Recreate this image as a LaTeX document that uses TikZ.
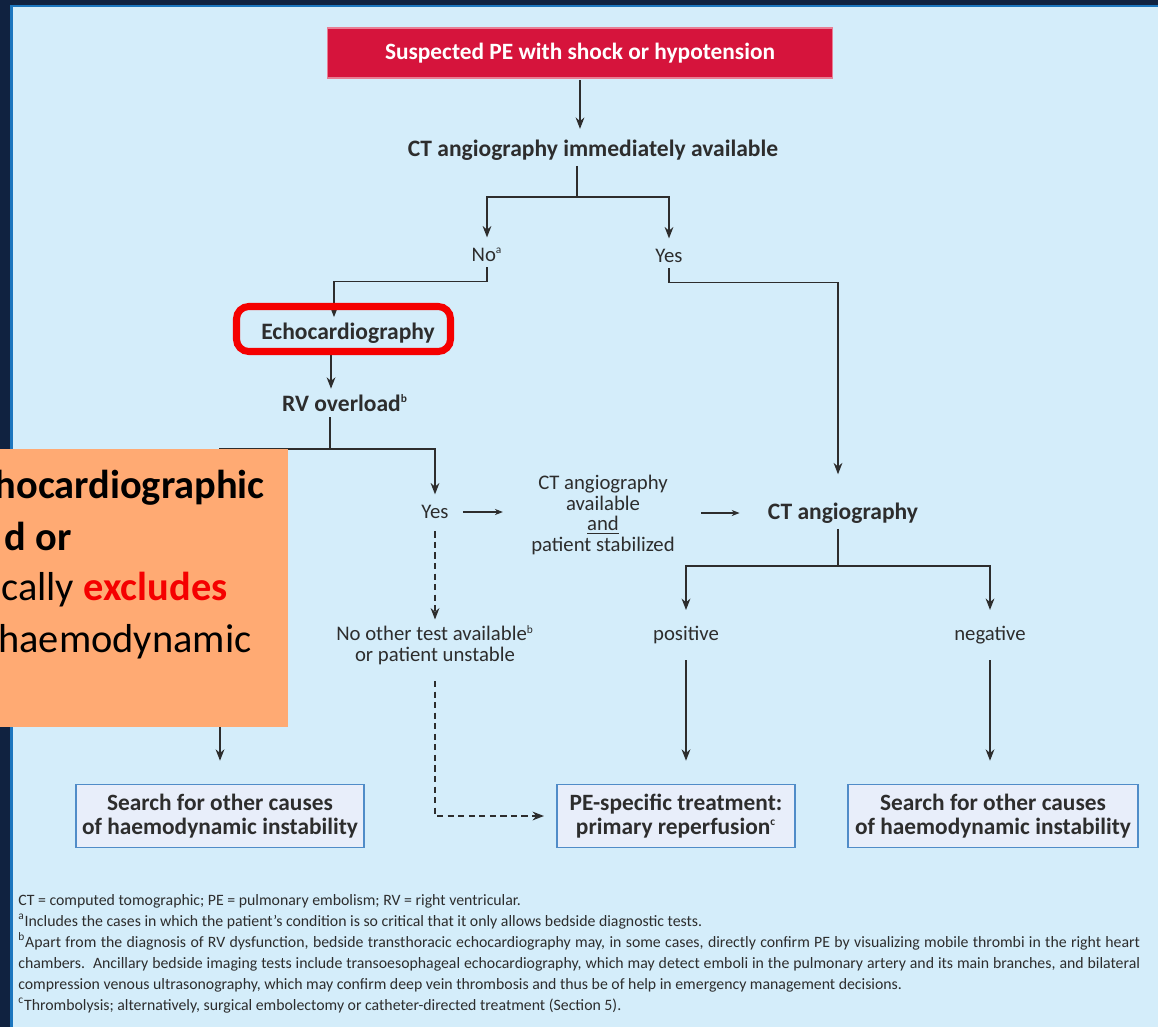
\documentclass[tikz,border=0pt]{standalone}
\usepackage{fontspec}
\setmainfont{Carlito}
\usetikzlibrary{arrows.meta}
\newcommand{\fnmark}[1]{\textsuperscript{\fontsize{6.5}{6.5}\selectfont #1}}

\begin{document}
\begin{tikzpicture}[x=0.02cm, y=-0.02cm,
    flow/.style={draw=inkgray, line width=0.8pt, -{Stealth[length=6.5pt, width=5pt]}},
    smallflow/.style={draw=inkgray, line width=0.6pt, -{Stealth[length=4.5pt, width=3.5pt]}},
    link/.style={draw=inkgray, line width=0.8pt},
    dashlink/.style={flow, dash pattern=on 3.5pt off 2.5pt},
    txt/.style={text=inkgray, inner sep=3pt, align=center, font=\fontsize{11.8}{11.9}\selectfont},
    boldtxt/.style={txt, font=\fontsize{13.4}{14}\selectfont\bfseries},
    endbox/.style={draw=boxedge, fill=boxfill, line width=0.9pt, text=inkgray, align=center,
        minimum height=1.26cm, font=\fontsize{13.3}{13.8}\selectfont\bfseries},
    foot/.style={anchor=base west, inner sep=0pt, text=inkgray, font=\fontsize{9}{11.9}\selectfont},
    note/.style={inner sep=0pt, text=black, font=\fontsize{23}{28}\selectfont},
]
    % Define colors
    \definecolor{navy}{RGB}{16,34,64}
    \definecolor{edgeblue}{RGB}{28,118,190}
    \definecolor{paleblue}{RGB}{212,237,250}
    \definecolor{crimson}{RGB}{214,20,60}
    \definecolor{boxfill}{RGB}{232,238,250}
    \definecolor{boxedge}{RGB}{80,140,200}
    \definecolor{inkgray}{RGB}{45,45,45}
    \definecolor{peach}{RGB}{255,170,115}
    \definecolor{hlred}{RGB}{245,0,0}

    % Frame and background
    \useasboundingbox (0,0) rectangle (1158,1027);
    \fill[navy] (0,0) rectangle (1158,1027);
    \fill[edgeblue] (10,5) rectangle (1158,1027);
    \fill[paleblue] (13,7.5) rectangle (1158,1027);

    % Steps of the pathway
    \node[fill=crimson, draw=crimson!55!white, line width=0.6pt, minimum width=10.12cm, minimum height=1cm,
        text=white, font=\fontsize{13.3}{14}\selectfont\bfseries] (suspect) at (580,53) {Suspected PE with shock or hypotension};
    \node[boldtxt] (ctnow) at (593,150) {CT angiography immediately available};
    \node[txt] (noA) at (487,255) {No\fnmark{a}};
    \node[txt] (yesA) at (669,256) {Yes};
    \node[boldtxt] (echo) at (348,333) {Echocardiography};
    \node[boldtxt] (rvload) at (345,403) {RV overload\fnmark{b}};
    \node[txt] (yesB) at (435,512) {Yes};
    \node[txt] (ctcond) at (603,515) {CT angiography\\available\\\underline{and}\\patient stabilized};
    \node[boldtxt] (ctang) at (843,513) {CT angiography};
    \node[txt] (pos) at (686,635) {positive};
    \node[txt] (neg) at (990,635) {negative};
    \node[txt] (noother) at (435,645) {No other test available\fnmark{b}\\or patient unstable};

    % Outcome boxes
    \node[endbox, minimum width=5.68cm] (searchL) at (220,816) {Search for other causes\\of haemodynamic instability};
    \node[endbox, minimum width=4.76cm] (treat) at (676,816) {PE-specific treatment:\\primary reperfusion\fnmark{c}};
    \node[endbox, minimum width=5.8cm] (searchR) at (993,816) {Search for other causes\\of haemodynamic instability};

    % Connectors
    \draw[flow, shorten <=1pt, shorten >=3pt] (suspect.south) -- (suspect.south |- ctnow.north);
    \coordinate (splitA) at (577,197);
    \draw[link] (ctnow.south -| splitA) -- (splitA);
    \draw[flow, shorten >=3pt] (splitA) -| (noA.north);
    \draw[flow, shorten >=3pt] (splitA) -| (yesA.north);
    \draw[flow] (noA.south) -- ++(0,14) -| ([xshift=-0.28cm]echo.north);
    \draw[flow, shorten >=13pt] (yesA.south) -- ++(0,14) -| ([xshift=-0.1cm]ctang.north);
    \draw[flow] ([xshift=-0.34cm]echo.south) -- ([xshift=-0.34cm]echo.south |- rvload.north);
    \coordinate (splitB) at (330,449);
    \draw[link] (rvload.south -| splitB) -- (splitB);
    \draw[flow, shorten >=3pt] (splitB) -| (yesB.north);
    \draw[flow, shorten >=0.46cm] (splitB) -| (searchL.north);
    \draw[smallflow, shorten <=5pt, shorten >=13pt] (yesB.east) -- (ctcond.west |- yesB.east);
    \draw[smallflow, shorten <=12pt, shorten >=13pt] (ctcond.east |- ctang.west) -- (ctang.west);
    \coordinate (splitC) at (838,566);
    \draw[link] (ctang.south -| splitC) -- (splitC);
    \draw[flow, shorten >=6pt] (splitC) -| (pos.north);
    \draw[flow, shorten >=6pt] (splitC) -| (neg.north);
    \draw[flow, shorten <=6pt, shorten >=0.46cm] (pos.south) -- (pos.south |- treat.north);
    \draw[flow, shorten <=6pt, shorten >=0.46cm] (neg.south) -- (neg.south |- searchR.north);
    \draw[dashlink, shorten <=4pt] (yesB.south) -- (noother.north);
    \draw[dashlink, shorten <=6pt, shorten >=7pt] (noother.south) |- (treat.west);

    % Highlight round the echocardiography step
    \draw[hlred, line width=4pt, rounded corners=7pt] (236.5,306.5) rectangle (450.5,351.5);

    % Overlaid note
    \node[fill=peach, minimum width=5.76cm, minimum height=5.56cm, anchor=north west, inner sep=0pt] (notebox) at (0,449) {};
    \node[note, anchor=base east, font=\fontsize{23}{28}\selectfont\bfseries] (noteA) at (265,498) {hocardiographic};
    \node[note, anchor=base east, font=\fontsize{23}{28}\selectfont\bfseries] (noteB) at (72,550) {d or};
    \node[note, anchor=base west] (noteC) at (1,600) {cally \textcolor{hlred}{\textbf{excludes}}};
    \node[note, anchor=base west] (noteD) at (-2,652) {haemodynamic};

    % Footnotes
    \node[foot] (footA) at (18,905) {CT = computed tomographic; PE = pulmonary embolism; RV = right ventricular.};
    \node[foot] (footB) at (18,926) {\fnmark{a}Includes the cases in which the patient’s condition is so critical that it only allows bedside diagnostic tests.};
    \node[foot] (footC) at (18,947) {\makebox[22.44cm][s]{\fnmark{b}Apart from the diagnosis of RV dysfunction, bedside transthoracic echocardiography may, in some cases, directly confirm PE by visualizing mobile thrombi in the right heart}};
    \node[foot] (footD) at (18,968) {\makebox[22.44cm][s]{chambers.\ \ Ancillary bedside imaging tests include transoesophageal echocardiography, which may detect emboli in the pulmonary artery and its main branches, and bilateral}};
    \node[foot] (footE) at (18,989) {compression venous ultrasonography, which may confirm deep vein thrombosis and thus be of help in emergency management decisions.};
    \node[foot] (footF) at (18,1010) {\fnmark{c}Thrombolysis; alternatively, surgical embolectomy or catheter-directed treatment (Section 5).};

\end{tikzpicture}
\end{document}
